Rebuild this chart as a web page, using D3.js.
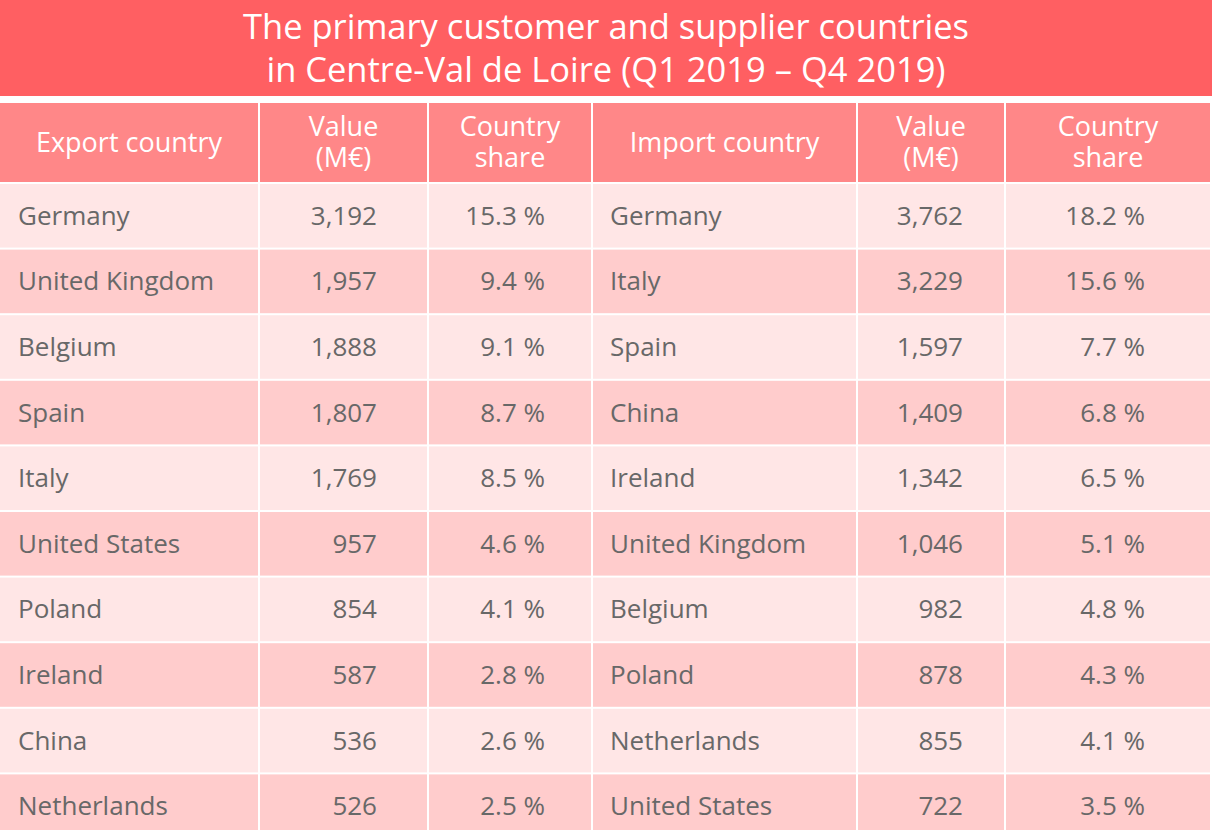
<!DOCTYPE html>
<html><head><meta charset="utf-8">
<script src="https://cdn.jsdelivr.net/npm/d3@7"></script>
<style>html,body{margin:0;padding:0;background:#fff;overflow:hidden}svg{display:block}</style>
</head><body>
<script>
const titleLines = ["The primary customer and supplier countries", "in Centre-Val de Loire (Q1 2019 \u2013 Q4 2019)"];
const headers = [["Export country"], ["Value", "(M\u20ac)"], ["Country", "share"], ["Import country"], ["Value", "(M\u20ac)"], ["Country", "share"]];
const exportCountries = ["Germany","United Kingdom","Belgium","Spain","Italy","United States","Poland","Ireland","China","Netherlands"];
const exportValues = [3192,1957,1888,1807,1769,957,854,587,536,526];
const exportShares = [15.3,9.4,9.1,8.7,8.5,4.6,4.1,2.8,2.6,2.5];
const importCountries = ["Germany","Italy","Spain","China","Ireland","United Kingdom","Belgium","Poland","Netherlands","United States"];
const importValues = [3762,3229,1597,1409,1342,1046,982,878,855,722];
const importShares = [18.2,15.6,7.7,6.8,6.5,5.1,4.8,4.3,4.1,3.5];

const W = 1214, H = 830;
const svg = d3.select("body").append("svg").attr("width", W).attr("height", H);
const font = "'Open Sans', 'Noto Sans', sans-serif";

// title band
svg.append("rect").attr("x",0).attr("y",0).attr("width",W-2).attr("height",96).attr("fill","#ff5f62");
const title = svg.append("text").attr("text-anchor","middle").attr("fill","#fff")
  .style("font-family", font).style("font-size","34.5px");
title.selectAll("tspan").data(titleLines).join("tspan")
  .attr("x", 606).attr("y", (d,i)=> 39 + i*43).text(d=>d);

// columns: [left, right]
const colEdges = [0, 260, 429, 593, 858, 1006, 1212];
const gap = 2;
const headerTop = 103, headerBottom = 182;

const rowIdx = d3.range(exportCountries.length);
const y = d3.scaleBand().domain(rowIdx).range([184, 184 + 65.6*rowIdx.length]).paddingInner(0);

// header cells
headers.forEach((h, c) => {
  const x0 = colEdges[c], x1 = colEdges[c+1] - gap;
  svg.append("rect").attr("x",x0).attr("y",headerTop).attr("width",x1-x0).attr("height",headerBottom-headerTop).attr("fill","#ff8788");
  const cx = (x0+x1)/2;
  const cy = (headerTop+headerBottom)/2;
  const lh = 31;
  const t = svg.append("text").attr("text-anchor","middle").attr("fill","#fff")
    .style("font-family", font).style("font-size","27px");
  t.selectAll("tspan").data(h).join("tspan")
    .attr("x", cx).attr("y", (d,k) => cy + (k - (h.length-1)/2)*lh + 9).text(d=>d);
});

const fmt = d3.format(",");
const columns = [
  {vals: exportCountries, anchor: "start", x: 18, f: d=>d},
  {vals: exportValues, anchor: "end", x: 377, f: fmt},
  {vals: exportShares, anchor: "end", x: 545, f: d=>d.toFixed(1)+" %"},
  {vals: importCountries, anchor: "start", x: 610, f: d=>d},
  {vals: importValues, anchor: "end", x: 963, f: fmt},
  {vals: importShares, anchor: "end", x: 1145, f: d=>d.toFixed(1)+" %"}
];

const rows = svg.selectAll("g.row").data(rowIdx).join("g").attr("class","row");
columns.forEach((col, c) => {
  const x0 = colEdges[c], x1 = colEdges[c+1] - gap;
  rows.append("rect").attr("x", x0).attr("y", i => y(i)).attr("width", x1-x0).attr("height", y.bandwidth()-gap)
    .attr("fill", i => i % 2 === 0 ? "#ffe6e6" : "#ffcccc");
  rows.append("text").attr("x", col.x).attr("y", i => y(i) + y.bandwidth()/2 + 8)
    .attr("text-anchor", col.anchor).attr("fill","#686868")
    .style("font-family", font).style("font-size","26px")
    .text(i => col.f(col.vals[i]));
});
</script>
</body></html>
